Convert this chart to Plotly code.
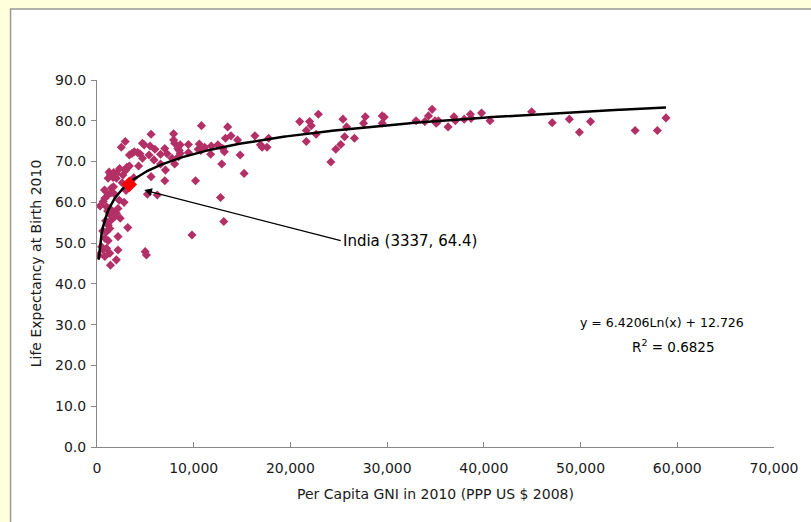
import numpy as np
import plotly.graph_objects as go

# Per capita GNI (PPP US$ 2008) and life expectancy at birth 2010
gni = [
    10800, 13510, 5590, 7920, 13850, 13280, 16330, 2920, 2510, 4700,
    4880, 5490, 5990, 7920, 8030, 7010, 8600, 8360, 8500, 8600,
    8430, 9450, 10570, 11140, 11820, 12500, 3620, 3350, 3860, 4200,
    4440, 4700, 5380, 6570, 7250, 9450, 10460, 10740, 11750, 13000,
    13170, 14530, 16900, 17070, 17580, 17750, 14800, 5890, 7750, 6570,
    8030, 12900, 4300, 3350, 3080, 2950, 2340, 2000, 1730, 1250,
    1150, 1390, 1660, 2000, 2680, 7080, 5590, 15210, 7010, 10190,
    780, 1150, 1490, 1830, 5210, 6230, 12770, 810, 640, 320,
    990, 1320, 1660, 1390, 1830, 2000, 1490, 1150, 2170, 2400,
    3180, 13110, 1320, 990, 9820, 810, 2170, 1150, 470, 990,
    640, 176, 2170, 4980, 5110, 1320, 2000, 1390, 810,
    20960, 21640, 21640, 21980, 22150, 22660, 22890, 24180, 24690, 25200,
    25430, 25600, 25810, 26620, 27560, 27740, 29490, 29700, 29490, 32990,
    33900, 34270, 34650, 34950, 35080, 35290, 36300, 36910, 37050, 37970,
    38610, 38680, 39760, 40640, 44940, 47070, 48840, 49880, 51030, 55640,
    57940, 58830,
    1500, 2600, 3800, 900, 1100, 2300, 1700, 3000, 600, 2800,
]
life = [
    78.8, 78.5, 76.7, 76.8, 76.3, 75.7, 76.3, 74.9, 73.5, 74.5,
    74.1, 73.8, 73.0, 75.3, 74.5, 73.2, 74.1, 73.2, 72.7, 72.0,
    71.2, 74.2, 74.3, 73.5, 73.8, 74.1, 72.0, 71.6, 72.4, 72.2,
    71.9, 70.8, 71.6, 71.8, 71.9, 72.2, 73.0, 72.7, 71.8, 73.2,
    72.4, 75.3, 74.1, 73.5, 73.5, 75.7, 71.6, 70.4, 70.8, 69.4,
    69.4, 69.4, 68.9, 68.9, 68.6, 67.8, 68.3, 67.1, 67.3, 67.4,
    65.9, 66.7, 66.1, 65.9, 66.7, 67.9, 66.3, 67.1, 65.3, 65.3,
    63.0, 61.8, 62.4, 62.0, 62.0, 61.8, 61.2, 61.0, 60.2, 59.1,
    58.9, 58.5, 57.7, 56.9, 56.5, 57.3, 55.7, 54.4, 58.5, 56.1,
    53.8, 55.3, 53.6, 52.8, 52.0, 51.2, 51.6, 50.6, 49.1, 48.7,
    48.3, 47.0, 48.3, 47.9, 47.1, 47.5, 45.9, 44.6, 46.7,
    79.8, 77.6, 74.9, 79.8, 78.8, 76.7, 81.6, 69.9, 73.0, 74.2,
    80.4, 76.1, 78.5, 75.7, 79.4, 81.0, 81.2, 80.9, 79.4, 80.0,
    79.8, 81.2, 82.8, 80.0, 79.4, 80.0, 78.5, 81.0, 80.0, 80.4,
    81.6, 80.6, 81.9, 80.0, 82.2, 79.5, 80.4, 77.2, 79.8, 77.6,
    77.6, 80.7,
    63.5, 64.8, 66.0, 55.5, 57.9, 60.5, 63.8, 62.9, 53.0, 60.0,
]

india_gni = [3337]
india_life = [64.4]

# Logarithmic trendline as reported on the chart
coef_a = 6.4206
coef_b = 12.726
r2_text = "0.6825"

x_ticks = [0, 10000, 20000, 30000, 40000, 50000, 60000, 70000]
y_ticks = [0, 10, 20, 30, 40, 50, 60, 70, 80, 90]

trend_x = np.linspace(min(gni), max(gni), 400)
trend_y = coef_a * np.log(trend_x) + coef_b

FONT = "'DejaVu Sans', sans-serif"
MARK = "#B33066"
TXT = "#1a1a1a"

fig = go.Figure()
fig.add_trace(go.Scatter(
    x=gni, y=life, mode="markers",
    marker=dict(symbol="diamond", size=7, color=MARK, line=dict(width=0)),
    hoverinfo="x+y", showlegend=False))
fig.add_trace(go.Scatter(
    x=trend_x, y=trend_y, mode="lines",
    line=dict(color="black", width=2.5), showlegend=False, hoverinfo="skip"))
fig.add_trace(go.Scatter(
    x=india_gni, y=india_life, mode="markers",
    marker=dict(symbol="diamond", size=12, color="#FF0000", line=dict(width=0)),
    showlegend=False))

fig.add_annotation(
    x=4877, y=63.0, xref="x", yref="y",
    ax=25200, ay=50.6, axref="x", ayref="y",
    text="India (3337, 64.4)", showarrow=True,
    arrowhead=2, arrowsize=1.2, arrowwidth=1.3, arrowcolor="black",
    xanchor="left", yanchor="middle",
    font=dict(family=FONT, size=15, color="black"))

fig.add_annotation(
    x=0.835, y=0.338, xref="paper", yref="paper",
    xanchor="center", yanchor="middle",
    text="y = 6.4206Ln(x) + 12.726", showarrow=False,
    font=dict(family=FONT, size=12.5, color="black"))
fig.add_annotation(
    x=0.852, y=0.275, xref="paper", yref="paper",
    xanchor="center", yanchor="middle",
    text="R<sup>2</sup> = " + r2_text, showarrow=False,
    font=dict(family=FONT, size=13.5, color="black"))

# white chart area with gray border over pale yellow page
fig.add_shape(type="rect", xref="paper", yref="paper",
              x0=-0.1277, y0=-0.3, x1=1.2, y1=1.1935,
              fillcolor="white", line=dict(color="#999999", width=1.5),
              layer="below")

fig.update_layout(
    width=811, height=522,
    margin=dict(l=97, r=25, t=80, b=75),
    paper_bgcolor="#FFFFDC",
    plot_bgcolor="rgba(0,0,0,0)",
    font=dict(family=FONT, size=14, color=TXT),
    xaxis=dict(
        range=[0, 70000], tickvals=x_ticks, tickformat=",",
        showgrid=False, zeroline=False, showline=True,
        linecolor="#888888", linewidth=1,
        ticks="inside", ticklen=5, tickcolor="#888888",
        ticklabelstandoff=8,
        tickfont=dict(family=FONT, size=14, color=TXT),
        title=dict(text="Per Capita GNI in 2010 (PPP US $ 2008)",
                   font=dict(family=FONT, size=14, color=TXT), standoff=14),
    ),
    yaxis=dict(
        range=[0, 90], tickvals=y_ticks, tickformat=".1f",
        showgrid=False, zeroline=False, showline=True,
        linecolor="#888888", linewidth=1,
        ticks="outside", ticklen=5, tickcolor="#888888",
        ticklabelstandoff=2,
        tickfont=dict(family=FONT, size=14, color=TXT),
        title=dict(text="Life Expectancy at Birth 2010",
                   font=dict(family=FONT, size=14, color=TXT), standoff=10),
    ),
)

fig.write_html("out.html")
